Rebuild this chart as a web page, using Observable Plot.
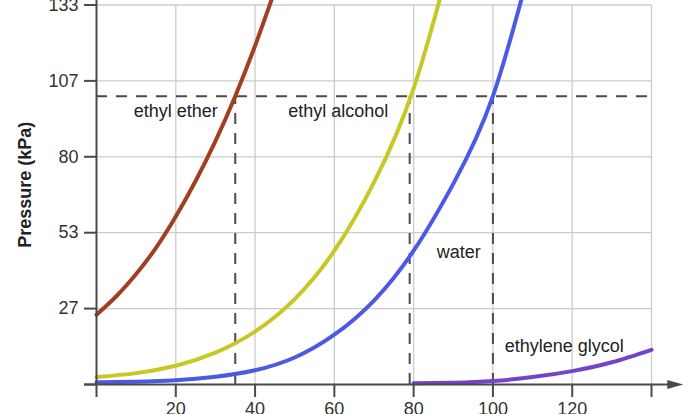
<!DOCTYPE html>
<html>
<head>
<meta charset="utf-8">
<script src="https://cdn.jsdelivr.net/npm/d3@7"></script>
<script src="https://cdn.jsdelivr.net/npm/@observablehq/plot@0.6"></script>
<style>
  html, body { margin: 0; padding: 0; background: white; }
</style>
</head>
<body>
<div id="chart"></div>
<script>
// Temperatures (°C) and vapor pressures (kPa)
const etherT   = [0, 5, 10, 15, 20, 25, 30, 35, 40, 45];
const etherP   = [24.5, 31, 38.8, 48, 59, 71.5, 85.5, 101.3, 119, 138.5];
const ethanolT = [0, 10, 20, 30, 40, 50, 60, 70, 80, 90];
const ethanolP = [2.6, 4.0, 6.6, 11.2, 18.6, 30, 47, 71, 104, 153];
const waterT   = [0, 10, 20, 30, 40, 50, 60, 70, 80, 90, 100, 110];
const waterP   = [0.8, 1.0, 1.5, 2.7, 5.0, 9.5, 17.5, 29.5, 47, 70.5, 101.3, 150];
const glycolT  = [80, 90, 100, 110, 120, 130, 140];
const glycolP  = [0.4, 0.6, 1.2, 2.6, 4.7, 7.8, 12.2];

const atmosphere = 101.3;               // normal boiling pressure (kPa)
const boilingPoints = [35, 79, 100];    // ether, ethanol, water (°C)

const xTicks = [0, 20, 40, 60, 80, 100, 120, 140];
const xTickLabels = ["", "20", "40", "60", "80", "100", "120", ""];
const yTicks = [0, 26.67, 53.33, 80, 106.67, 133.33];
const yTickLabels = ["", "27", "53", "80", "107", "133"];

const seriesNames = ["ethyl ether", "ethyl alcohol", "water", "ethylene glycol"];
const seriesColors = ["#a23e22", "#c7c826", "#4a5ae6", "#7543c9"];
const labelX = [20, 61, 91.4, 118];
const labelY = [96, 96, 46.3, 13.3];

const toPoints = (T, P) => T.map((t, i) => ({t, p: P[i]}));
const series = [
  toPoints(etherT, etherP),
  toPoints(ethanolT, ethanolP),
  toPoints(waterT, waterP),
  toPoints(glycolT, glycolP)
];
const labels = seriesNames.map((name, i) => ({name, x: labelX[i], y: labelY[i]}));

const arrowHead = {
  draw(ctx) {
    ctx.moveTo(8, 0);
    ctx.lineTo(-8, -4.5);
    ctx.lineTo(-8, 4.5);
    ctx.closePath();
  }
};

const axisColor = "#4a4a4a";
const dash = "11,9";
const fs = 18;

const chart = Plot.plot({
  width: 700,
  height: 414,
  marginLeft: 96,
  marginRight: 49,
  marginTop: 4.5,
  marginBottom: 30,
  x: {domain: [0, 140]},
  y: {domain: [0, 133.33]},
  style: {
    fontFamily: "'Liberation Sans', Arial, Helvetica, sans-serif",
    fontSize: fs + "px",
    background: "white",
    color: "#222"
  },
  marks: [
    // grid
    Plot.ruleX(xTicks.slice(1), {y1: 0, y2: 133.33, stroke: "#cccccc", strokeWidth: 1.3}),
    Plot.ruleY(yTicks.slice(1), {x1: 0, x2: 140, stroke: "#cccccc", strokeWidth: 1.3}),
    // boiling point guides
    Plot.ruleY([atmosphere], {x1: 0, x2: 140, stroke: axisColor, strokeWidth: 2, strokeDasharray: dash}),
    Plot.ruleX(boilingPoints, {y1: 0, y2: atmosphere, stroke: axisColor, strokeWidth: 2, strokeDasharray: dash}),
    // curves
    ...series.map((pts, i) => Plot.line(pts, {
      x: "t", y: "p", stroke: seriesColors[i], strokeWidth: 4, curve: "natural"
    })),
    // axes lines
    Plot.ruleY([0], {x1: -3, x2: 146, stroke: axisColor, strokeWidth: 2}),
    Plot.dot([0], {x: 146, y: 0, symbol: arrowHead, r: 5, fill: axisColor, stroke: null}),
    Plot.ruleX([0], {y1: 0, y2: 140, stroke: axisColor, strokeWidth: 2}),
    // ticks and labels
    Plot.axisX(xTicks, {
      tickSize: 13, tickPadding: 5, stroke: axisColor, strokeWidth: 2,
      tickFormat: (d, i) => xTickLabels[i], fontSize: fs, fill: "#333", label: null
    }),
    Plot.axisY(yTicks, {
      tickSize: 12, tickPadding: 6, stroke: axisColor, strokeWidth: 2,
      tickFormat: (d, i) => yTickLabels[i], fontSize: fs, fill: "#333", label: null
    }),
    // series labels
    Plot.text(labels, {x: "x", y: "y", text: "name", fontSize: fs, fill: "#222"}),
    // y axis title
    Plot.text(["Pressure (kPa)"], {
      frameAnchor: "left", textAnchor: "middle", rotate: -90, dx: -71, dy: -10,
      fontSize: fs, fontWeight: "bold", fill: "#222"
    })
  ]
});

document.getElementById("chart").appendChild(chart);
</script>
</body>
</html>
